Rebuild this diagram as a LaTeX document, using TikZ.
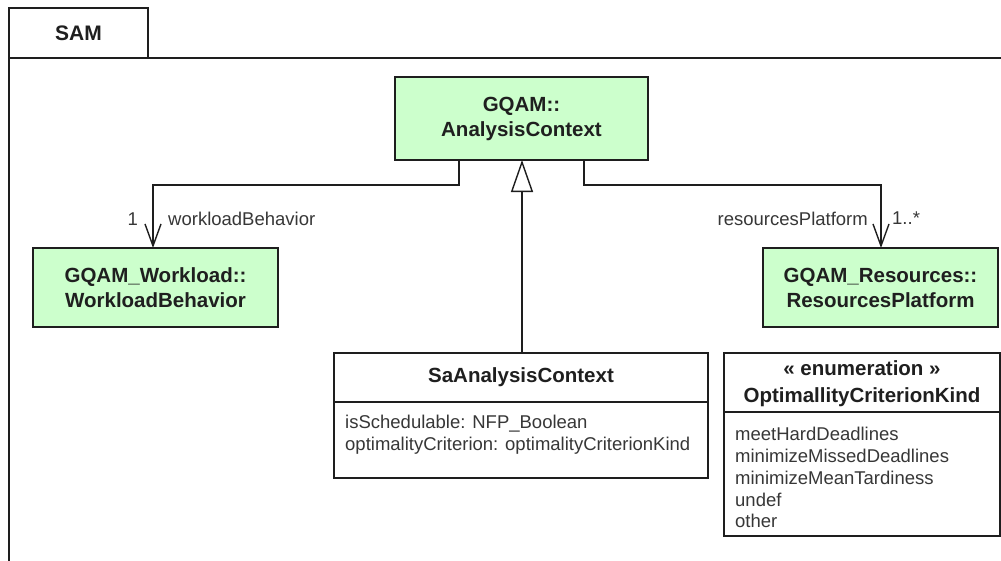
\documentclass[tikz,border=0pt]{standalone}
\usepackage{fontspec}
\setmainfont{Liberation Sans}
\usetikzlibrary{arrows.meta}
\definecolor{boxgreen}{RGB}{204,255,204}
\definecolor{linec}{RGB}{30,30,30}
\definecolor{txtc}{RGB}{55,55,55}
\begin{document}
\begin{tikzpicture}[x=1pt,y=-1pt,
  box/.style={draw=linec, line width=1.7pt, inner sep=0pt, outer sep=0pt},
  gbox/.style={box, fill=boxgreen},
  btext/.style={font=\fontsize{20.5}{25}\selectfont\bfseries, text=black!88, align=center, inner sep=0pt},
  rtext/.style={font=\fontsize{18.5}{22}\selectfont, text=txtc, inner sep=0pt},
  conn/.style={draw=linec, line width=1.4pt},
  vee/.style={-{Straight Barb[length=22pt,width=16pt]}},
  gen/.style={-{Triangle[open,length=32pt,width=22pt,fill=white]}},
]
\useasboundingbox (0,0) rectangle (1001,560);
\fill[white] (0,0) rectangle (1001,560);
% package frame
\node[box, minimum width=139pt, minimum height=50pt, anchor=north west] (tab) at (9,8) {};
\node[btext, font=\fontsize{21}{25}\selectfont\bfseries] (samlabel) at (tab.center) {SAM};
\coordinate (frameBL) at (9,562);
\coordinate (frameTR) at (1003,58);
\draw[box] (frameBL) -- (tab.south west) -- (frameTR);
% classes
\node[gbox, btext, minimum width=253pt, minimum height=83pt] (ac) at (521.5,118.5) {GQAM::\\AnalysisContext};
\node[gbox, btext, minimum width=245pt, minimum height=79pt] (wb) at (155.5,287.5) {GQAM\_Workload::\\WorkloadBehavior};
\node[gbox, btext, minimum width=235pt, minimum height=79pt] (rp) at (880.5,287.5) {GQAM\_Resources::\\ResourcesPlatform};
% SaAnalysisContext
\node[box, minimum width=374pt, minimum height=125pt] (sa) at (521,415.5) {};
\node[btext, anchor=base] (saname) at (521,382) {SaAnalysisContext};
\coordinate (sadiv) at (0,402);
\draw[box] (sa.west |- sadiv) -- (sa.east |- sadiv);
\node[rtext, anchor=base west] (sa1) at (345,428) {isSchedulable: NFP\_Boolean};
\node[rtext, anchor=base west] (sa2) at (345,450) {optimalityCriterion: optimalityCriterionKind};
% enumeration
\node[box, minimum width=276pt, minimum height=183pt] (en) at (862,444.5) {};
\node[btext, anchor=base] (enst) at (862,375) {« enumeration »};
\node[btext, anchor=base] (enname) at (862,402) {OptimallityCriterionKind};
\coordinate (endiv) at (0,412);
\draw[box] (en.west |- endiv) -- (en.east |- endiv);
\node[rtext, anchor=base west] (e1) at (735,440) {meetHardDeadlines};
\node[rtext, anchor=base west] (e2) at (735,462) {minimizeMissedDeadlines};
\node[rtext, anchor=base west] (e3) at (735,484) {minimizeMeanTardiness};
\node[rtext, anchor=base west] (e4) at (735,506) {undef};
\node[rtext, anchor=base west] (e5) at (735,527) {other};
% connectors
\coordinate (bL1) at (459,185);
\coordinate (bL2) at (153,185);
\coordinate (bR1) at (584,185);
\coordinate (bR2) at (881,185);
\coordinate (gx) at (522,0);
\draw[conn, vee] (ac.south -| bL1) -- (bL1) -- (bL2) -- (wb.north -| bL2);
\draw[conn, vee] (ac.south -| bR1) -- (bR1) -- (bR2) -- (rp.north -| bR2);
\draw[conn, gen] (sa.north -| gx) -- (ac.south -| gx);
% role labels
\node[rtext, anchor=base east] (m1) at (138,225) {1};
\node[rtext, anchor=base west] (r1) at (168,225) {workloadBehavior};
\node[rtext, anchor=base east] (r2) at (868,225) {resourcesPlatform};
\node[rtext, anchor=base west] (m2) at (892,224) {1..*};
\end{tikzpicture}
\end{document}
